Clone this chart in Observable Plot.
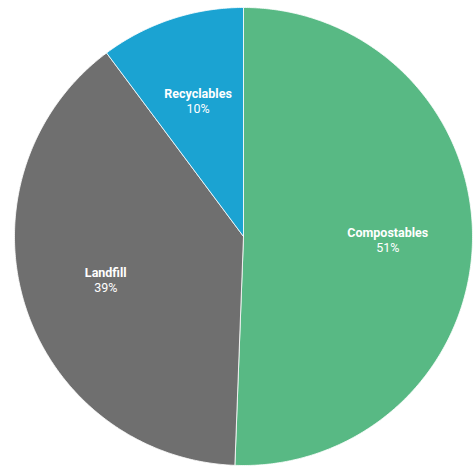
<!DOCTYPE html>
<html>
<head>
<meta charset="utf-8">
<script src="https://cdn.jsdelivr.net/npm/d3@7"></script>
<script src="https://cdn.jsdelivr.net/npm/@observablehq/plot@0.6"></script>
<style>
  body { margin: 0; background: #fff; }
  svg { display: block; }
</style>
</head>
<body>
<div id="chart"></div>
<script>
const categories = ["Compostables", "Landfill", "Recyclables"];
const values = [50.6, 39.2, 10.2];
const percentLabels = ["51%", "39%", "10%"];
const colors = ["#58b984", "#6f6f6f", "#1ba3d2"];

const total = d3.sum(values);
const slices = [];
let acc = 0;
categories.forEach((name, i) => {
  const a0 = acc / total * 2 * Math.PI;
  acc += values[i];
  const a1 = acc / total * 2 * Math.PI;
  slices.push({name, a0, a1, pct: percentLabels[i]});
});

const points = [];
for (const s of slices) {
  points.push({name: s.name, x: 0, y: 0});
  const n = Math.max(2, Math.ceil((s.a1 - s.a0) / (Math.PI / 360)));
  for (let k = 0; k <= n; k++) {
    const a = s.a0 + (s.a1 - s.a0) * k / n;
    points.push({name: s.name, x: Math.sin(a), y: Math.cos(a)});
  }
  points.push({name: s.name, x: 0, y: 0});
}

const labelR = 0.63;
const labels = slices.map(s => {
  const m = (s.a0 + s.a1) / 2;
  return {name: s.name, pct: s.pct, x: labelR * Math.sin(m), y: labelR * Math.cos(m)};
});

const chart = Plot.plot({
  width: 473,
  height: 468,
  margin: 0,
  x: {domain: [-243 / 229, 230 / 229], axis: null},
  y: {domain: [(236 - 468) / 229, 236 / 229], axis: null},
  color: {domain: categories, range: colors},
  style: {fontFamily: "Roboto, sans-serif"},
  marks: [
    Plot.line(points, {x: "x", y: "y", z: "name", fill: "name", stroke: "#ffffff", strokeWidth: 1, strokeOpacity: 0.8, curve: "linear"}),
    Plot.text(labels, {x: "x", y: "y", text: "name", fill: "white", fontWeight: "bold", fontSize: 12.5, dy: -6}),
    Plot.text(labels, {x: "x", y: "y", text: "pct", fill: "white", fontSize: 12.5, dy: 9})
  ]
});
document.getElementById("chart").append(chart);
</script>
</body>
</html>
